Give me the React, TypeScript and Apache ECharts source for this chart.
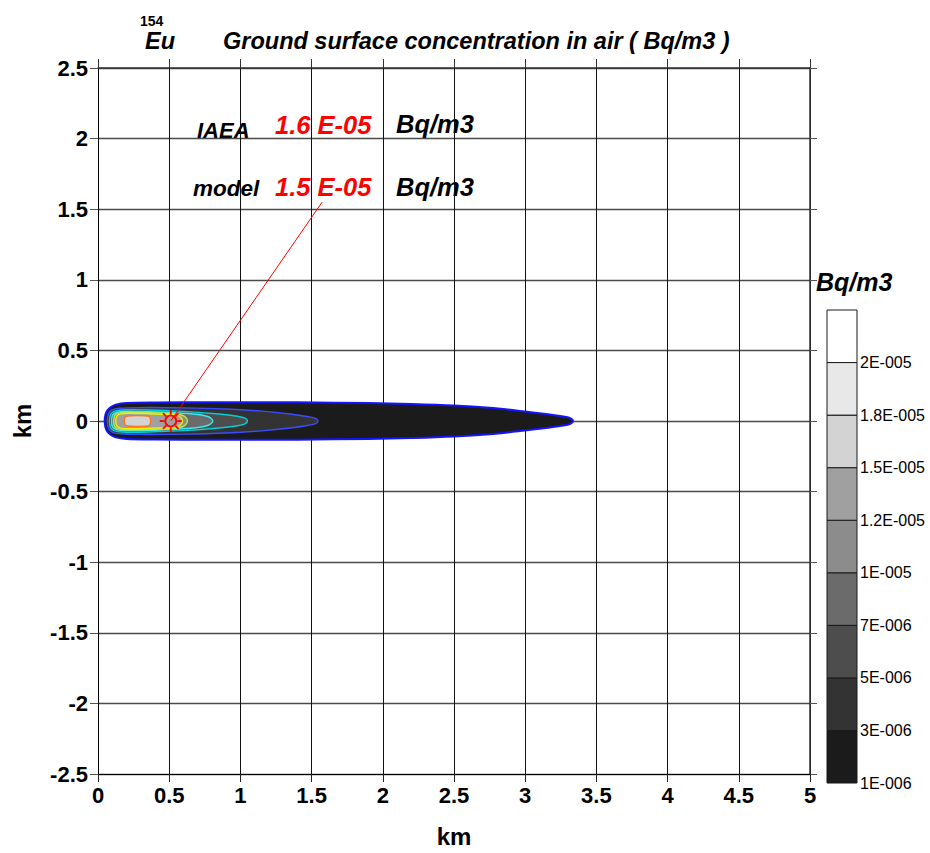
import React, { useEffect, useRef } from 'react';
import * as echarts from 'echarts';

const FONT = '"Liberation Sans", Arial, Helvetica, sans-serif';

// Map extent (km) and grid step
const X_RANGE = [0, 5];
const Y_RANGE = [-2.5, 2.5];
const TICK_STEP = 0.5;

// Colour scale (Bq/m3): lower bound of each band, bottom to top
const levelLabels = ['1E-006', '3E-006', '5E-006', '7E-006', '1E-005', '1.2E-005', '1.5E-005', '1.8E-005', '2E-005'];
const bandColors = ['#1b1b1b', '#333333', '#4d4d4d', '#6b6b6b', '#8c8c8c', '#a0a0a0', '#d3d3d3', '#e8e8e8', '#ffffff'];

// Plume contours: [downwind distance km, crosswind half-width km]
const contour1E6 = [[0.047, 0], [0.052, 0.045], [0.066, 0.076], [0.09, 0.099], [0.125, 0.116], [0.2, 0.127], [0.4, 0.131], [0.8, 0.133], [1.4, 0.132], [1.9, 0.127], [2.2, 0.12], [2.5, 0.109], [2.75, 0.093], [2.95, 0.073], [3.1, 0.055], [3.22, 0.039], [3.29, 0.028], [3.322, 0.017], [3.336, 0]];
const contour3E6 = [[0.065, 0], [0.073, 0.05], [0.098, 0.078], [0.15, 0.09], [0.3, 0.095], [0.6, 0.093], [0.9, 0.085], [1.15, 0.07], [1.35, 0.05], [1.48, 0.03], [1.528, 0.018], [1.545, 0]];
const contour5E6 = [[0.08, 0], [0.088, 0.045], [0.112, 0.068], [0.17, 0.078], [0.35, 0.078], [0.6, 0.068], [0.85, 0.05], [0.98, 0.034], [1.032, 0.02], [1.05, 0]];
const contour7E6 = [[0.095, 0], [0.102, 0.042], [0.128, 0.06], [0.19, 0.068], [0.35, 0.066], [0.55, 0.058], [0.7, 0.046], [0.77, 0.032], [0.795, 0.018], [0.806, 0]];
const contour1E5 = [[0.11, 0], [0.117, 0.04], [0.143, 0.056], [0.2, 0.062], [0.35, 0.06], [0.5, 0.055], [0.58, 0.044], [0.615, 0.026], [0.628, 0]];
const contour12E6 = [[0.125, 0], [0.132, 0.035], [0.158, 0.05], [0.22, 0.055], [0.35, 0.052], [0.47, 0.048], [0.55, 0.042], [0.582, 0.025], [0.594, 0]];
const contour15E6 = [[0.185, 0], [0.188, 0.022], [0.198, 0.033], [0.23, 0.037], [0.33, 0.037], [0.357, 0.033], [0.366, 0.022], [0.37, 0]];

const contourProfiles = [contour1E6, contour3E6, contour5E6, contour7E6, contour1E5, contour12E6, contour15E6];
const contourBand = [0, 1, 2, 3, 4, 5, 6];
const contourLineColors = ['#1414ff', '#3a4cff', '#00cfdc', '#3ce8ec', '#b4e850', '#f2ee00', '#ff7424'];

// Monitoring point and its labelled values
const stationPoint = [0.511, 0];
const leaderEnd = [1.574, 1.55];
const iaeaValue = '1.6 E-05';
const modelValue = '1.5 E-05';
const unitText = 'Bq/m3';

const axisTextStyle = { fontSize: 22, fontWeight: 'bold' as const, color: '#000', fontFamily: FONT };

function plumePolygon(profile: number[][], api: any) {
  const upper = profile.map(([x, h]) => api.coord([x, h]));
  const lower = profile.slice(1, -1).reverse().map(([x, h]) => api.coord([x, -h]));
  return upper.concat(lower);
}

export default function App() {
  const ref = useRef<HTMLDivElement>(null);

  useEffect(() => {
    if (!ref.current) return;
    const chart = echarts.init(ref.current, null, { renderer: 'svg' });

    const mainX = {
      type: 'value', gridIndex: 0, min: X_RANGE[0], max: X_RANGE[1], interval: TICK_STEP,
    };
    const mainY = {
      type: 'value', gridIndex: 0, min: Y_RANGE[0], max: Y_RANGE[1], interval: TICK_STEP,
    };

    const option: any = {
      animation: false,
      backgroundColor: '#ffffff',
      grid: [
        { left: 98, top: 68, width: 712, height: 711 },
        { left: 827, top: 310, width: 30, height: 473 },
      ],
      xAxis: [
        {
          ...mainX,
          position: 'bottom',
          name: 'km',
          nameLocation: 'middle',
          nameGap: 50,
          nameTextStyle: { fontSize: 24, fontWeight: 'bold', color: '#000', fontFamily: FONT },
          axisLine: { show: true, onZero: false, lineStyle: { color: '#000', width: 1 } },
          axisTick: { show: true, inside: false, length: 8, lineStyle: { color: '#222' } },
          axisLabel: { ...axisTextStyle, margin: 10 },
          splitLine: { show: true, lineStyle: { color: '#111', width: 1 } },
        },
        {
          ...mainX,
          position: 'top',
          axisLine: { show: true, onZero: false, lineStyle: { color: '#333', width: 1.5 } },
          axisTick: { show: true, inside: false, length: 9, lineStyle: { color: '#333' } },
          axisLabel: { show: false },
          splitLine: { show: false },
        },
        {
          type: 'value', gridIndex: 1, min: 0, max: 1, show: false,
        },
      ],
      yAxis: [
        {
          ...mainY,
          position: 'left',
          name: 'km',
          nameLocation: 'middle',
          nameGap: 64,
          nameTextStyle: { fontSize: 24, fontWeight: 'bold', color: '#000', fontFamily: FONT },
          axisLine: { show: true, onZero: false, lineStyle: { color: '#000', width: 1 } },
          axisTick: { show: true, inside: false, length: 8, lineStyle: { color: '#555' } },
          axisLabel: { ...axisTextStyle, margin: 10 },
          splitLine: { show: true, lineStyle: { color: '#4a4a4a', width: 1.3 } },
        },
        {
          ...mainY,
          position: 'right',
          axisLine: { show: true, onZero: false, lineStyle: { color: '#333', width: 1.5 } },
          axisTick: { show: true, inside: false, length: 7, lineStyle: { color: '#555' } },
          axisLabel: { show: false },
          splitLine: { show: false },
        },
        {
          type: 'value', gridIndex: 1, min: 0, max: levelLabels.length, interval: 1,
          position: 'right',
          axisLine: { show: false },
          axisTick: { show: false },
          splitLine: { show: false },
          axisLabel: {
            fontSize: 16, color: '#000', fontFamily: FONT, margin: 3,
            formatter: (v: number) => {
              const i = Math.round(v);
              return Math.abs(v - i) < 1e-6 && levelLabels[i] ? levelLabels[i] : '';
            },
          },
        },
      ],
      series: [
        {
          // filled concentration contours, outermost first
          type: 'custom',
          xAxisIndex: 0,
          yAxisIndex: 0,
          data: contourProfiles.map((p, i) => [p[0][0], 0, i]),
          encode: { x: 0, y: 1 },
          z: 3,
          renderItem: (params: any, api: any) => {
            const i = params.dataIndex;
            return {
              type: 'polygon',
              shape: { points: plumePolygon(contourProfiles[i], api), smooth: 0.3 },
              style: {
                fill: bandColors[contourBand[i]],
                stroke: contourLineColors[i],
                lineWidth: i === 0 ? 2 : 1.4,
              },
            };
          },
        },
        {
          // leader from the monitoring point to its labels
          type: 'line',
          xAxisIndex: 0,
          yAxisIndex: 0,
          data: [stationPoint, leaderEnd],
          symbol: 'none',
          z: 5,
          lineStyle: { color: '#ff0000', width: 1 },
        },
        {
          // monitoring point marker
          type: 'custom',
          xAxisIndex: 0,
          yAxisIndex: 0,
          data: [stationPoint],
          encode: { x: 0, y: 1 },
          z: 6,
          renderItem: (params: any, api: any) => {
            const [cx, cy] = api.coord([api.value(0), api.value(1)]);
            const children: any[] = [
              { type: 'circle', shape: { cx, cy, r: 5.5 }, style: { fill: 'none', stroke: '#ff0000', lineWidth: 1.8 } },
            ];
            for (let k = 0; k < 8; k++) {
              const a = (k * Math.PI) / 4;
              children.push({
                type: 'line',
                shape: {
                  x1: cx + 6.5 * Math.cos(a), y1: cy + 6.5 * Math.sin(a),
                  x2: cx + 11 * Math.cos(a), y2: cy + 11 * Math.sin(a),
                },
                style: { stroke: '#ff0000', lineWidth: 1.8 },
              });
            }
            return { type: 'group', children };
          },
        },
        {
          // colour scale bands
          type: 'custom',
          xAxisIndex: 2,
          yAxisIndex: 2,
          data: bandColors.map((c, i) => [0, i]),
          encode: { x: 0, y: 1 },
          renderItem: (params: any, api: any) => {
            const i = params.dataIndex;
            const p0 = api.coord([0, i + 1]);
            const p1 = api.coord([1, i]);
            return {
              type: 'rect',
              shape: { x: p0[0], y: p0[1], width: p1[0] - p0[0], height: p1[1] - p0[1] },
              style: { fill: bandColors[i], stroke: '#1a1a1a', lineWidth: 1 },
            };
          },
        },
      ],
      graphic: [
        { type: 'text', x: 140, y: 21, style: { text: '154', fill: '#000', font: `bold 14px ${FONT}`, verticalAlign: 'middle' } },
        { type: 'text', x: 145, y: 41, style: { text: 'Eu', fill: '#000', font: `italic bold 23.5px ${FONT}`, verticalAlign: 'middle' } },
        { type: 'text', x: 223, y: 41, style: { text: 'Ground surface concentration in air ( Bq/m3 )', fill: '#000', font: `italic bold 23.5px ${FONT}`, verticalAlign: 'middle' } },
        { type: 'text', x: 197, y: 130, style: { text: 'IAEA', fill: '#000', font: `italic bold 22px ${FONT}`, verticalAlign: 'middle' } },
        { type: 'text', x: 275, y: 125, style: { text: iaeaValue, fill: '#ff0000', font: `italic bold 25.5px ${FONT}`, verticalAlign: 'middle' } },
        { type: 'text', x: 396, y: 124, style: { text: unitText, fill: '#000', font: `italic bold 25.5px ${FONT}`, verticalAlign: 'middle' } },
        { type: 'text', x: 193, y: 188, style: { text: 'model', fill: '#000', font: `italic bold 22.5px ${FONT}`, verticalAlign: 'middle' } },
        { type: 'text', x: 275, y: 187, style: { text: modelValue, fill: '#ff0000', font: `italic bold 25.5px ${FONT}`, verticalAlign: 'middle' } },
        { type: 'text', x: 396, y: 187, style: { text: unitText, fill: '#000', font: `italic bold 25.5px ${FONT}`, verticalAlign: 'middle' } },
        { type: 'text', x: 816, y: 282, style: { text: unitText, fill: '#000', font: `italic bold 25px ${FONT}`, verticalAlign: 'middle' } },
      ],
    };

    chart.setOption(option);
    return () => chart.dispose();
  }, []);

  return <div ref={ref} style={{ position: 'absolute', left: 0, top: 0, width: 930, height: 853 }} />;
}
